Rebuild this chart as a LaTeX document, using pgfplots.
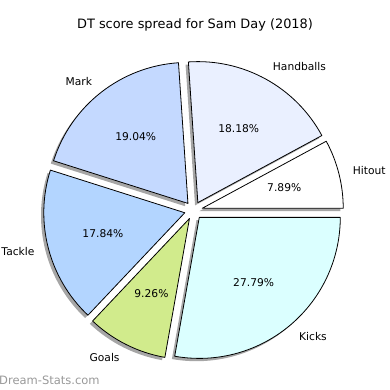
\documentclass[border=0pt]{standalone}
\usepackage{fontspec}
\setmainfont{DejaVu Sans}
\usepackage{pgfplots}
\pgfplotsset{compat=1.18}
\definecolor{cHitout}{HTML}{FFFFFF}
\definecolor{cHandballs}{HTML}{EAF0FF}
\definecolor{cMark}{HTML}{C4D9FF}
\definecolor{cTackle}{HTML}{B3D5FF}
\definecolor{cGoals}{HTML}{D1EB8C}
\definecolor{cKicks}{HTML}{DBFFFF}
% data (percent)
\def\vHitout{7.89}
\def\vHandballs{18.18}
\def\vMark{19.04}
\def\vTackle{17.84}
\def\vGoals{9.26}
\def\vKicks{27.79}
% geometry (pixels)
\def\cx{193.5}\def\cy{179.5}\def\R{141}\def\ex{9}
\newcommand\shadowslice[2]{%
  \fill[black!35] ([shift={(-2.8pt,-2.8pt)}]axis cs:{\cx+\ex*cos((#1+#2)/2)},{\cy+\ex*sin((#1+#2)/2)})
    -- +(#1:\R pt) arc[start angle=#1,end angle=#2,radius=\R pt] -- cycle;}
\newcommand\slice[6]{%
  \filldraw[fill=#3,draw=black,line width=0.8pt,line join=round]
    (axis cs:{\cx+\ex*cos((#1+#2)/2)},{\cy+\ex*sin((#1+#2)/2)})
    -- +(#1:\R pt) arc[start angle=#1,end angle=#2,radius=\R pt] -- cycle;
  \node[anchor=#6,inner sep=0pt] at (axis cs:{\cx+(\ex+1.1*\R)*cos((#1+#2)/2)},{\cy+(\ex+1.1*\R)*sin((#1+#2)/2)}) {#4};
  \node[inner sep=0pt] at (axis cs:{\cx+(\ex+0.6*\R)*cos((#1+#2)/2)},{\cy+(\ex+0.6*\R)*sin((#1+#2)/2)}) {#5};
}
\begin{document}
\begin{tikzpicture}
\pgfmathsetmacro\aA{0}
\pgfmathsetmacro\aB{\aA+3.6*\vHitout}
\pgfmathsetmacro\aC{\aB+3.6*\vHandballs}
\pgfmathsetmacro\aD{\aC+3.6*\vMark}
\pgfmathsetmacro\aE{\aD+3.6*\vTackle}
\pgfmathsetmacro\aF{\aE+3.6*\vGoals}
\pgfmathsetmacro\aG{\aF+3.6*\vKicks}
\begin{axis}[x=1pt,y=1pt,xmin=0,xmax=390,ymin=0,ymax=390,hide axis,clip=false,
  font=\fontsize{10.7}{12}\selectfont]
\path[use as bounding box] (axis cs:0,0) rectangle (axis cs:390,390);
\shadowslice{\aA}{\aB}
\shadowslice{\aB}{\aC}
\shadowslice{\aC}{\aD}
\shadowslice{\aD}{\aE}
\shadowslice{\aE}{\aF}
\shadowslice{\aF}{\aG}
\slice{\aA}{\aB}{cHitout}{Hitout}{7.89\%}{west}
\slice{\aB}{\aC}{cHandballs}{Handballs}{18.18\%}{west}
\slice{\aC}{\aD}{cMark}{Mark}{19.04\%}{east}
\slice{\aD}{\aE}{cTackle}{Tackle}{17.84\%}{east}
\slice{\aE}{\aF}{cGoals}{Goals}{9.26\%}{east}
\slice{\aF}{\aG}{cKicks}{Kicks}{27.79\%}{west}
\node[font=\fontsize{12.9}{15}\selectfont] at (axis cs:195,365) {DT score spread for Sam Day (2018)};
\node[anchor=west,inner sep=0pt,text=black!40,font=\fontsize{11.5}{13}\selectfont] at (axis cs:-1,10) {Dream-Stats.com};
\end{axis}
\end{tikzpicture}
\end{document}
